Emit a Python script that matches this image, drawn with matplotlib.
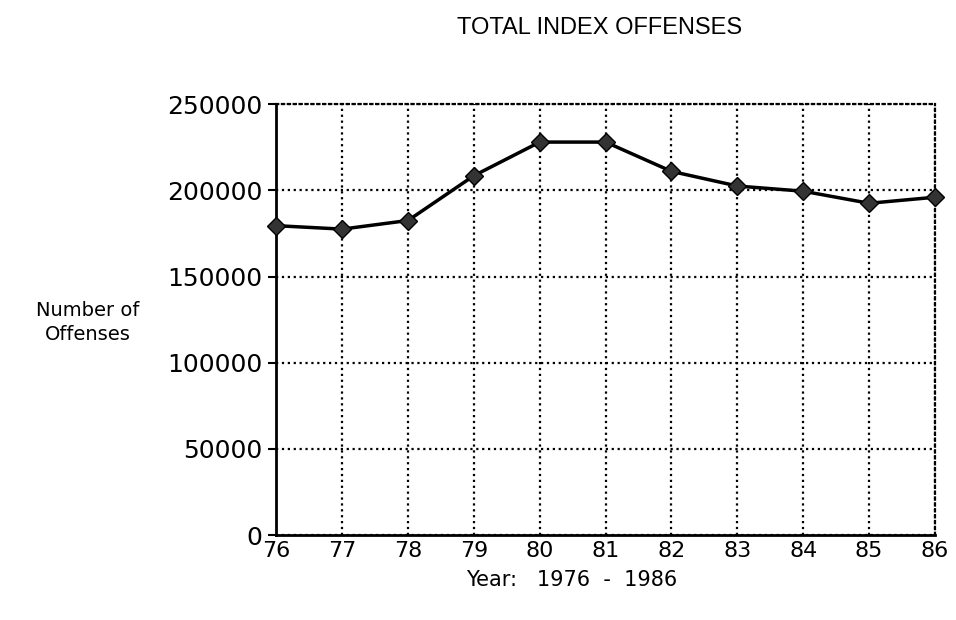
import numpy as np
import matplotlib
matplotlib.use("Agg")
import matplotlib.pyplot as plt

years = [76, 77, 78, 79, 80, 81, 82, 83, 84, 85, 86]
offenses = [179500, 177500, 182500, 208500, 228000, 228000, 211000, 202500, 199500, 192500, 196000]

plt.rcParams['font.family'] = ['DejaVu Sans']

fig = plt.figure(figsize=(9.56, 6.2), dpi=100)
ax = fig.add_axes([0.289, 0.137, 0.689, 0.695])

ax.plot(years, offenses, color='black', lw=2.5, marker='D', ms=9,
        markerfacecolor='#333333', markeredgecolor='black', zorder=3, clip_on=False)

ax.set_xlim(76, 86)
ax.set_ylim(0, 250000)
ax.set_xticks(years)
ax.set_yticks(np.arange(0, 250001, 50000))
ax.grid(True, color='black', ls=':', lw=1.6)
for s in ['top', 'right']:
    ax.spines[s].set_linestyle(':')
    ax.spines[s].set_linewidth(1.6)
for s in ['left', 'bottom']:
    ax.spines[s].set_linewidth(2)
ax.tick_params(axis='y', length=6, width=1.5, labelsize=18, pad=4)
ax.tick_params(axis='x', length=0, labelsize=16, pad=4)

fig.text(0.598, 0.064, "Year:   1976  -  1986", fontsize=15, ha='center', va='center')
fig.text(0.092, 0.48, "Number of\nOffenses", fontsize=14, ha='center', va='center',
         linespacing=1.3)
fig.text(0.627, 0.955, "TOTAL INDEX OFFENSES", fontsize=17, ha='center', va='center',
         family='Liberation Sans')

fig.savefig("out.png", dpi=100)
